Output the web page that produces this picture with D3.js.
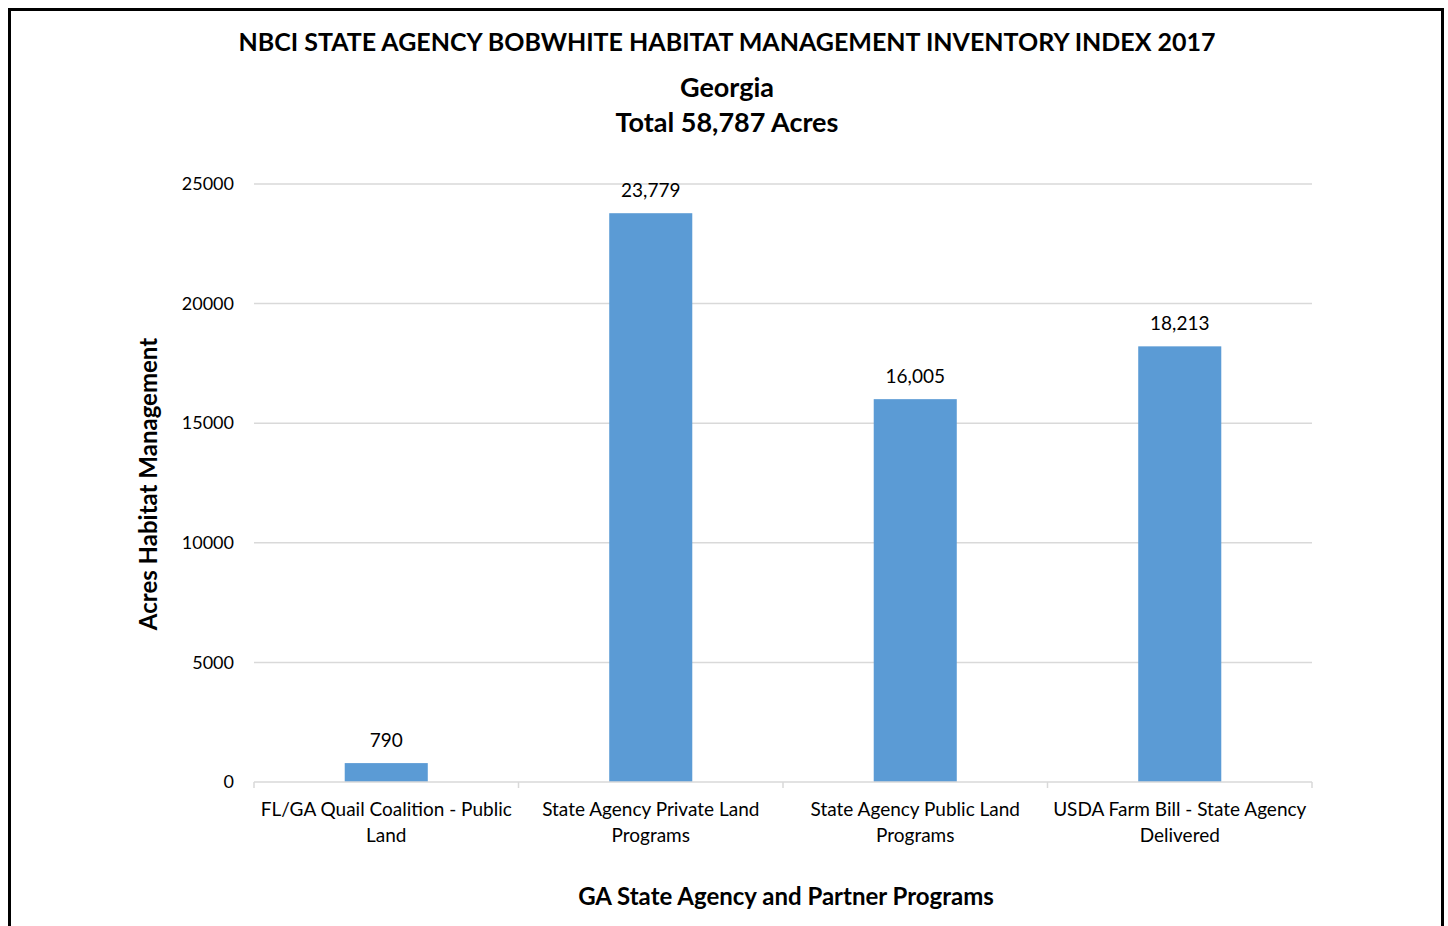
<!DOCTYPE html>
<html>
<head>
<meta charset="utf-8">
<script src="https://cdn.jsdelivr.net/npm/d3@7"></script>
<style>
  body { margin: 0; background: #fff; overflow: hidden; }
  svg { display: block; font-family: Lato, "Open Sans", sans-serif; }
</style>
</head>
<body>
<div id="chart"></div>
<script>
const categories = [
    ["FL/GA Quail Coalition - Public", "Land"],
    ["State Agency Private Land", "Programs"],
    ["State Agency Public Land", "Programs"],
    ["USDA Farm Bill - State Agency", "Delivered"]
];
const acres = [790, 23779, 16005, 18213];
const yTicks = [0, 5000, 10000, 15000, 20000, 25000];

const width = 1448, height = 926;
const margin = { top: 184, right: 136, bottom: 144, left: 254 };
const innerWidth = width - margin.left - margin.right;
const innerHeight = height - margin.top - margin.bottom;

const svg = d3.select('#chart')
    .append('svg')
    .attr('width', width)
    .attr('height', height);

// Outer frame (bottom edge runs off the picture)
svg.append('path')
    .attr('d', `M9.5,${height} V9.5 H1442.5 V${height}`)
    .attr('fill', 'none')
    .attr('stroke', '#000')
    .attr('stroke-width', 3);

const g = svg.append('g')
    .attr('transform', `translate(${margin.left},${margin.top})`);

const xScale = d3.scaleBand()
    .domain(d3.range(categories.length))
    .range([0, innerWidth])
    .paddingInner(0.686)
    .paddingOuter(0.343);

const yScale = d3.scaleLinear()
    .domain([0, 25000])
    .range([innerHeight, 0]);

// Gridlines
g.selectAll('.grid')
    .data(yTicks.slice(1))
    .enter().append('line')
    .attr('x1', 0).attr('x2', innerWidth)
    .attr('y1', d => yScale(d)).attr('y2', d => yScale(d))
    .attr('stroke', '#d9d9d9')
    .attr('stroke-width', 1.5);

// Y axis labels
const yAxis = d3.axisLeft(yScale)
    .tickValues(yTicks)
    .tickFormat(d3.format('d'))
    .tickSize(0)
    .tickPadding(20);
g.append('g')
    .call(yAxis)
    .call(s => s.select('.domain').remove())
    .selectAll('text')
    .attr('font-size', 18)
    .attr('font-family', 'Lato, sans-serif')
    .attr('fill', '#000');

// Bars
g.selectAll('.bar')
    .data(acres)
    .enter().append('rect')
    .attr('x', (d, i) => xScale(i))
    .attr('y', d => yScale(d))
    .attr('width', xScale.bandwidth())
    .attr('height', d => innerHeight - yScale(d))
    .attr('fill', '#5b9bd5');

// Value labels
g.selectAll('.value')
    .data(acres)
    .enter().append('text')
    .attr('x', (d, i) => xScale(i) + xScale.bandwidth() / 2)
    .attr('y', d => yScale(d) - 16)
    .attr('text-anchor', 'middle')
    .attr('font-size', 19)
    .text(d => d3.format(',')(d));

// X baseline and category ticks
const step = innerWidth / categories.length;
g.append('line')
    .attr('x1', 0).attr('x2', innerWidth)
    .attr('y1', innerHeight).attr('y2', innerHeight)
    .attr('stroke', '#d9d9d9')
    .attr('stroke-width', 1.5);

g.selectAll('.tick-mark')
    .data(d3.range(categories.length + 1))
    .enter().append('line')
    .attr('x1', d => d * step).attr('x2', d => d * step)
    .attr('y1', innerHeight).attr('y2', innerHeight + 6)
    .attr('stroke', '#d9d9d9')
    .attr('stroke-width', 1.5);

// Category labels
const catText = g.selectAll('.cat')
    .data(categories)
    .enter().append('text')
    .attr('text-anchor', 'middle')
    .attr('font-size', 19)
    .attr('transform', (d, i) => `translate(${xScale(i) + xScale.bandwidth() / 2},${innerHeight + 34})`);
catText.selectAll('tspan')
    .data(d => d)
    .enter().append('tspan')
    .attr('x', 0)
    .attr('dy', (d, i) => i === 0 ? 0 : 26)
    .text(d => d);

// Titles
svg.append('text')
    .attr('x', 727).attr('y', 51)
    .attr('text-anchor', 'middle')
    .attr('font-size', 25)
    .attr('font-weight', 'bold')
    .text('NBCI STATE AGENCY BOBWHITE HABITAT MANAGEMENT INVENTORY INDEX 2017');

svg.append('text')
    .attr('x', 727).attr('y', 97)
    .attr('text-anchor', 'middle')
    .attr('font-size', 27)
    .attr('font-weight', 'bold')
    .text('Georgia');

svg.append('text')
    .attr('x', 727).attr('y', 132)
    .attr('text-anchor', 'middle')
    .attr('font-size', 27)
    .attr('font-weight', 'bold')
    .text('Total 58,787 Acres');

// Axis titles
svg.append('text')
    .attr('x', 786).attr('y', 905)
    .attr('text-anchor', 'middle')
    .attr('font-size', 24)
    .attr('font-weight', 'bold')
    .text('GA State Agency and Partner Programs');

svg.append('text')
    .attr('transform', 'translate(157,484) rotate(-90)')
    .attr('text-anchor', 'middle')
    .attr('font-size', 24)
    .attr('font-weight', 'bold')
    .text('Acres Habitat Management');
</script>
</body>
</html>
